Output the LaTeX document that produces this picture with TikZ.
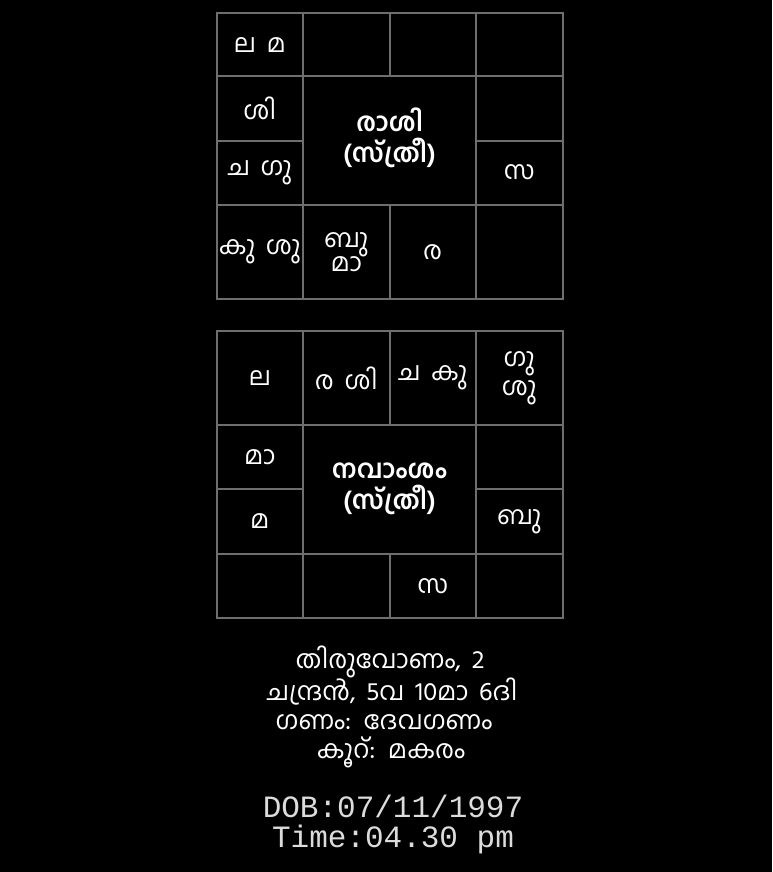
\documentclass[tikz,border=0pt]{standalone}
\usepackage{fontspec}
\newfontfamily\mal[Script=Malayalam,WordSpace=1.7]{Hind Kochi}
\newfontfamily\monofnt{Liberation Mono}
\definecolor{gridgrey}{HTML}{6E6E6E}
\definecolor{txtwhite}{HTML}{FFFFFF}
\definecolor{monowhite}{HTML}{DCDCDC}
\tikzset{
  cellbox/.style={draw=gridgrey, line width=2pt, rectangle, inner sep=0pt, outer sep=0pt,
    text=txtwhite, align=center, font=\mal\fontsize{25.5}{29}\selectfont},
  centerbox/.style={cellbox, font=\mal\bfseries\fontsize{26}{31}\selectfont},
  infotext/.style={text=txtwhite, inner sep=0pt, font=\mal\fontsize{25.5}{29}\selectfont},
  monotext/.style={text=monowhite, inner sep=0pt, font=\monofnt\fontsize{31}{34}\selectfont}
}
\newcommand{\cellnode}[7][cellbox]{%
  \node[#1, minimum width={(#5)-(#3)}, minimum height={(#6)-(#4)}] (#2) at ({((#3)+(#5))/2},{((#4)+(#6))/2}) {#7};}
\begin{document}
\begin{tikzpicture}[x=1pt,y=-1pt]
\fill[black] (0,0) rectangle (772,872);
\useasboundingbox (0,0) rectangle (772,872);
% Chart 1 (Rasi)
\cellnode{a11}{216.5}{13}{303}{76.5}{ല മ}
\cellnode{a12}{303}{13}{389.5}{76.5}{}
\cellnode{a13}{389.5}{13}{476}{76.5}{}
\cellnode{a14}{476}{13}{562.5}{76.5}{}
\cellnode{a21}{216.5}{76.5}{303}{140.5}{ശി}
\cellnode{a24}{476}{76.5}{562.5}{140.5}{}
\cellnode{a31}{216.5}{140.5}{303}{204.5}{ച ഗു}
\cellnode{a34}{476}{140.5}{562.5}{204.5}{സ}
\cellnode{a41}{216.5}{204.5}{303}{299}{കു ശു}
\cellnode{a42}{303}{204.5}{389.5}{299}{ബു\\[-5pt]മാ}
\cellnode{a43}{389.5}{204.5}{476}{299}{ര}
\cellnode{a44}{476}{204.5}{562.5}{299}{}
\cellnode[centerbox]{ac}{303}{76.5}{476}{204.5}{രാശി\\(സ്ത്രീ)\\[-30pt]\strut}
% Chart 2 (Navamsa)
\cellnode{b11}{216.5}{331}{303}{425}{ല}
\cellnode{b12}{303}{331}{389.5}{425}{ര ശി}
\cellnode{b13}{389.5}{331}{476}{425}{ച കു}
\cellnode{b14}{476}{331}{562.5}{425}{ഗു\\ശു}
\cellnode{b21}{216.5}{425}{303}{489}{മാ}
\cellnode{b24}{476}{425}{562.5}{489}{}
\cellnode{b31}{216.5}{489}{303}{553.5}{മ}
\cellnode{b34}{476}{489}{562.5}{553.5}{ബു}
\cellnode{b41}{216.5}{553.5}{303}{618}{}
\cellnode{b42}{303}{553.5}{389.5}{618}{}
\cellnode{b43}{389.5}{553.5}{476}{618}{സ}
\cellnode{b44}{476}{553.5}{562.5}{618}{}
\cellnode[centerbox]{bc}{303}{425}{476}{553.5}{നവാംശം\\(സ്ത്രീ)}
% Info text
\node[infotext] (i1) at (390,662) {തിരുവോണം, 2};
\node[infotext] (i2) at (392,692) {ചന്ദ്രൻ, 5വ 10മാ 6ദി};
\node[infotext] (i3) at (384,722) {ഗണം: ദേവഗണം};
\node[infotext] (i4) at (391,752) {കൂറ്: മകരം};
\node[monotext] (d1) at (393,806) {DOB:07/11/1997};
\node[monotext] (d2) at (393,839) {Time:04.30 pm};
\end{tikzpicture}
\end{document}
